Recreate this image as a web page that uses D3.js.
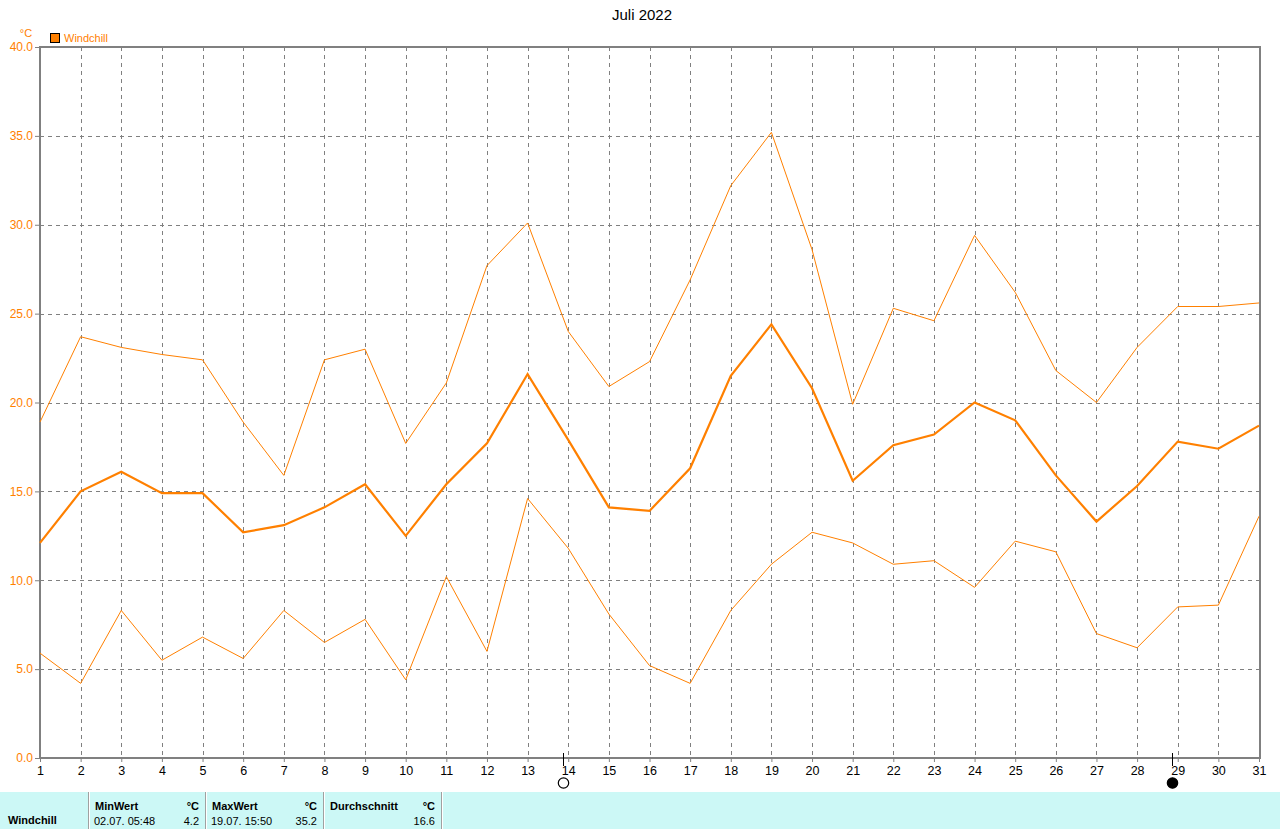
<!DOCTYPE html>
<html><head><meta charset="utf-8">
<script src="https://cdn.jsdelivr.net/npm/d3@7/dist/d3.min.js"></script>
<style>
body{margin:0;background:#fff;}
svg{display:block;font-family:"Liberation Sans",Arial,sans-serif;}
</style></head>
<body>
<svg id="c" width="1280" height="829"></svg>
<script>
const days = d3.range(1, 32);
const maxVals = [18.9,23.7,23.1,22.7,22.4,18.9,15.9,22.4,23.0,17.7,21.1,27.7,30.1,24.0,20.9,22.3,26.9,32.2,35.2,28.6,19.9,25.3,24.6,29.4,26.2,21.8,20.0,23.1,25.4,25.4,25.6];
const avgVals = [12.1,15.0,16.1,14.9,14.9,12.7,13.1,14.1,15.4,12.5,15.4,17.7,21.6,17.9,14.1,13.9,16.3,21.5,24.4,20.8,15.6,17.6,18.2,20.0,19.0,15.9,13.3,15.3,17.8,17.4,18.7];
const minVals = [5.9,4.2,8.3,5.5,6.8,5.6,8.3,6.5,7.8,4.4,10.2,6.0,14.6,11.8,8.1,5.2,4.2,8.3,10.9,12.7,12.1,10.9,11.1,9.6,12.2,11.6,7.0,6.2,8.5,8.6,13.6];
const yTicks = [0,5,10,15,20,25,30,35,40];
const moonDays = [{day:13.87, full:false},{day:28.86, full:true}];
const title = "Juli 2022";
const seriesName = "Windchill";
const unit = "°C";
const tableHeaders = ["MinWert","MaxWert","Durchschnitt"];
const tableValues = [["02.07.  05:48","4.2"],["19.07.  15:50","35.2"],["","16.6"]];

const orange = "#ff8000", gray = "#808080";
const svg = d3.select("#c");
const L = 40, R = 1259, T = 47, B = 758;
const x = d3.scaleLinear().domain([1,31]).range([L,R]);
const y = d3.scaleLinear().domain([0,40]).range([B,T]);

svg.append("text").attr("x",642).attr("y",20).attr("text-anchor","middle")
  .attr("font-size",15).attr("fill","#000").text(title);

// grid
const g = svg.append("g");
g.selectAll(".vg").data(days.slice(1,-1)).join("line")
  .attr("x1",d=>Math.round(x(d))+0.5).attr("x2",d=>Math.round(x(d))+0.5).attr("y1",T).attr("y2",B)
  .attr("stroke",gray).attr("stroke-dasharray","4,4").attr("stroke-width",1);
g.selectAll(".hg").data(yTicks.slice(1,-1)).join("line")
  .attr("x1",L).attr("x2",R).attr("y1",d=>Math.round(y(d))+0.5).attr("y2",d=>Math.round(y(d))+0.5)
  .attr("stroke",gray).attr("stroke-dasharray","4,4").attr("stroke-width",1);

// frame
svg.append("rect").attr("x",L).attr("y",T).attr("width",R-L+1).attr("height",B-T)
  .attr("fill","none").attr("stroke",gray).attr("stroke-width",2);

// y axis
const ya = svg.append("g").attr("transform",`translate(${L},0)`)
  .call(d3.axisLeft(y).tickValues(yTicks).tickFormat(d3.format(".1f")).tickSize(5).tickPadding(2));
ya.select(".domain").remove();
ya.selectAll("line").attr("stroke",gray);
ya.selectAll("text").attr("fill",orange).attr("font-size",12).attr("font-family","Liberation Sans, Arial, sans-serif");

// x axis
const xa = svg.append("g").attr("transform",`translate(0,${B})`)
  .call(d3.axisBottom(x).tickValues(days).tickFormat(d3.format("d")).tickSize(4).tickPadding(4));
xa.select(".domain").remove();
xa.selectAll("line").attr("stroke",gray);
xa.selectAll("text").attr("fill","#000").attr("font-size",12.5).attr("font-family","Liberation Sans, Arial, sans-serif");

// lines
const line = d3.line().x((d,i)=>x(days[i])).y(d=>y(d));
svg.append("path").datum(maxVals).attr("d",line).attr("fill","none").attr("stroke",orange).attr("stroke-width",1);
svg.append("path").datum(minVals).attr("d",line).attr("fill","none").attr("stroke",orange).attr("stroke-width",1);
svg.append("path").datum(avgVals).attr("d",line).attr("fill","none").attr("stroke",orange).attr("stroke-width",2.2);

// moon markers
moonDays.forEach(m=>{
  const mx = Math.round(x(m.day))+0.5;
  svg.append("line").attr("x1",mx).attr("x2",mx).attr("y1",B-5).attr("y2",B+8).attr("stroke","#000").attr("stroke-width",1);
  svg.append("circle").attr("cx",mx).attr("cy",B+25).attr("r",5.2)
    .attr("fill",m.full?"#000":"#fff").attr("stroke","#000").attr("stroke-width",1.2);
});

// unit & legend
svg.append("text").attr("x",26).attr("y",37).attr("text-anchor","middle").attr("font-size",11).attr("fill",orange).text(unit);
svg.append("rect").attr("x",50.5).attr("y",33.5).attr("width",9).attr("height",9).attr("fill",orange).attr("stroke","#000");
svg.append("text").attr("x",64).attr("y",42).attr("font-size",11).attr("fill",orange).text(seriesName);

// table
const tb = svg.append("g");
tb.append("rect").attr("x",0).attr("y",792).attr("width",1280).attr("height",37).attr("fill","#ccf8f6");
const seps = [88,205,323,441];
seps.forEach(sx=>{
  tb.append("line").attr("x1",sx+0.5).attr("x2",sx+0.5).attr("y1",792).attr("y2",829).attr("stroke","#a0a0a0").attr("stroke-width",1);
  tb.append("line").attr("x1",sx+1.5).attr("x2",sx+1.5).attr("y1",792).attr("y2",829).attr("stroke","#ffffff").attr("stroke-width",1);
});
tb.append("text").attr("x",8).attr("y",824).attr("font-size",11).attr("font-weight","bold").attr("fill","#000").text(seriesName);
tableHeaders.forEach((h,i)=>{
  const x0 = seps[i], x1 = seps[i+1];
  tb.append("text").attr("x",x0+7).attr("y",810).attr("font-size",11).attr("font-weight","bold").attr("fill","#000").text(h);
  tb.append("text").attr("x",x1-6).attr("y",810).attr("text-anchor","end").attr("font-size",11).attr("font-weight","bold").attr("fill","#000").text(unit);
  tb.append("text").attr("x",x0+6).attr("y",825).attr("font-size",11).attr("fill","#000").text(tableValues[i][0]);
  tb.append("text").attr("x",x1-6).attr("y",825).attr("text-anchor","end").attr("font-size",11).attr("fill","#000").text(tableValues[i][1]);
});
</script>
</body></html>
